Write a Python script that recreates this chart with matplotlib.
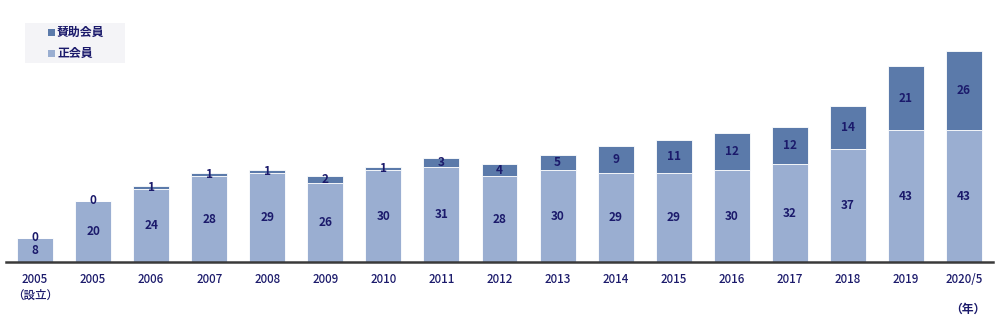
import matplotlib
matplotlib.use("Agg")
import matplotlib.pyplot as plt
from matplotlib.patches import Rectangle

years = ["2005\n（設立）", "2005", "2006", "2007", "2008", "2009", "2010", "2011", "2012",
         "2013", "2014", "2015", "2016", "2017", "2018", "2019", "2020/5"]
regular = [8, 20, 24, 28, 29, 26, 30, 31, 28, 30, 29, 29, 30, 32, 37, 43, 43]
supporting = [0, 0, 1, 1, 1, 2, 1, 3, 4, 5, 9, 11, 12, 12, 14, 21, 26]
series_names = ["賛助会員", "正会員"]

light = "#9aaed1"
dark = "#5b7aaa"
txt = "#1b1a6b"

plt.rcParams['font.family'] = ['Noto Sans CJK JP', 'DejaVu Sans']

fig = plt.figure(figsize=(10, 3.34), dpi=100)
ax = fig.add_axes([0.006, 1 - 262.3 / 334, 0.987, (262.3 - 30) / 334])

x = list(range(len(years)))
w = 0.62
b1 = ax.bar(x, regular, width=w, color=light, edgecolor="white", linewidth=0.6)
b2 = ax.bar(x, supporting, width=w, bottom=regular, color=dark, edgecolor="white", linewidth=0.6)

ax.bar_label(b1, labels=[str(v) for v in regular], label_type="center",
             fontsize=8.5, fontweight="bold", color=txt)
ax.bar_label(b2, labels=[str(v) for v in supporting], label_type="center",
             fontsize=8.5, fontweight="bold", color=txt)

ax.set_xlim(-0.5, 16.5)
ax.set_ylim(0, (262.3 - 30) / 3.067)
for s in ["top", "right", "left"]:
    ax.spines[s].set_visible(False)
ax.spines["bottom"].set_color("#3a3a3a")
ax.spines["bottom"].set_linewidth(1.8)
ax.set_yticks([])
ax.set_xticks(x)
ax.set_xticklabels(years, fontsize=8.3, color=txt, linespacing=1.2, fontweight="medium")
ax.tick_params(axis="x", length=0, pad=8)

fig.text(0.968, 1 - 309 / 334, "（年）", fontsize=8.5, color=txt, ha="center", va="center",
         fontweight="bold")

# legend box
fig.patches.append(Rectangle((25 / 1000, 1 - 63 / 334), 100 / 1000, 40 / 334,
                             transform=fig.transFigure, facecolor="#f4f4f7", edgecolor="none"))
for i, (name, col) in enumerate(zip(series_names, [dark, light])):
    yc = 1 - (32.5 + 21 * i) / 334
    fig.patches.append(Rectangle((48 / 1000, yc - 3 / 334), 7 / 1000, 6 / 334,
                                 transform=fig.transFigure, facecolor=col, edgecolor="none"))
    fig.text(57 / 1000, yc, name, fontsize=8.6, fontweight="bold", color=txt, va="center")

fig.savefig("out.png", dpi=100)
